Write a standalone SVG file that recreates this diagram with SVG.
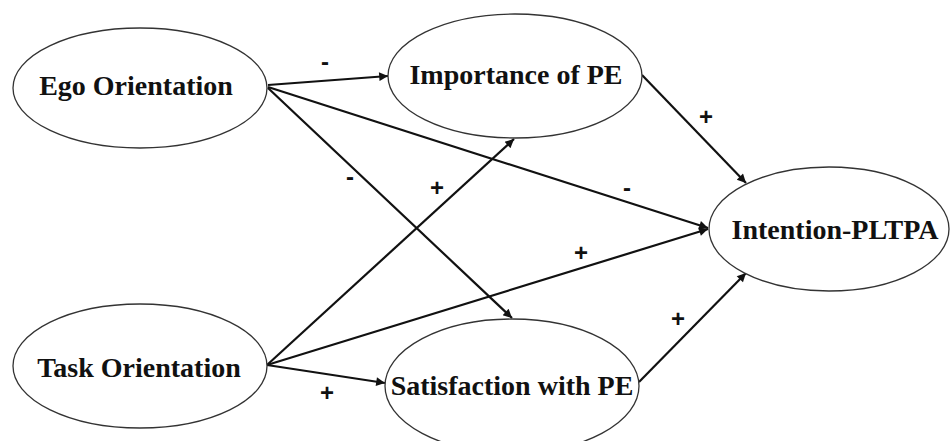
<svg xmlns="http://www.w3.org/2000/svg" width="950" height="441" viewBox="0 0 950 441">
<style>
.node ellipse{fill:#fff;stroke:#333;stroke-width:1.3}
.node text{font-family:"Liberation Serif","Times New Roman",serif;font-weight:bold;font-size:28px;fill:#111;text-anchor:middle}
.edge line{stroke:#111;stroke-width:2.2;marker-end:url(#ah)}
.lab{font-family:"Liberation Sans",Arial,sans-serif;font-weight:bold;font-size:24px;fill:#111;text-anchor:middle}
</style>
<defs>
<marker id="ah" viewBox="0 0 10 10" refX="10" refY="5" markerWidth="5" markerHeight="4" orient="auto" markerUnits="strokeWidth">
<path d="M0,0 L10,5 L0,10 z" fill="#111"/>
</marker>
</defs>
<rect width="950" height="441" fill="#fff"/>
<g id="connectors" class="edge">
<line x1="268" y1="85" x2="388" y2="76"/>
<line x1="268" y1="87" x2="708" y2="228"/>
<line x1="268" y1="88" x2="512" y2="318"/>
<line x1="267" y1="365" x2="514" y2="139"/>
<line x1="267" y1="365" x2="708" y2="229"/>
<line x1="267" y1="365" x2="385" y2="383"/>
<line x1="642" y1="75" x2="746" y2="183"/>
<line x1="639" y1="382" x2="746" y2="273"/>
</g>
<g id="ego" class="node"><ellipse cx="140" cy="88" rx="127" ry="60"/><text x="136" y="95">Ego Orientation</text></g>
<g id="importance" class="node"><ellipse cx="515" cy="76" rx="127" ry="62"/><text x="516" y="84">Importance of PE</text></g>
<g id="intention" class="node"><ellipse cx="829" cy="229" rx="120" ry="62"/><text x="835" y="239">Intention-PLTPA</text></g>
<g id="task" class="node"><ellipse cx="140" cy="366" rx="127" ry="62"/><text x="139" y="377">Task Orientation</text></g>
<g id="satisfaction" class="node"><ellipse cx="512" cy="386" rx="127" ry="67"/><text x="512" y="395">Satisfaction with PE</text></g>
<g id="labels">
<text class="lab" x="325" y="70">-</text>
<text class="lab" x="706" y="125">+</text>
<text class="lab" x="350" y="185">-</text>
<text class="lab" x="437" y="196">+</text>
<text class="lab" x="627" y="196">-</text>
<text class="lab" x="581" y="261">+</text>
<text class="lab" x="678" y="327">+</text>
<text class="lab" x="327" y="401">+</text>
</g>
</svg>
